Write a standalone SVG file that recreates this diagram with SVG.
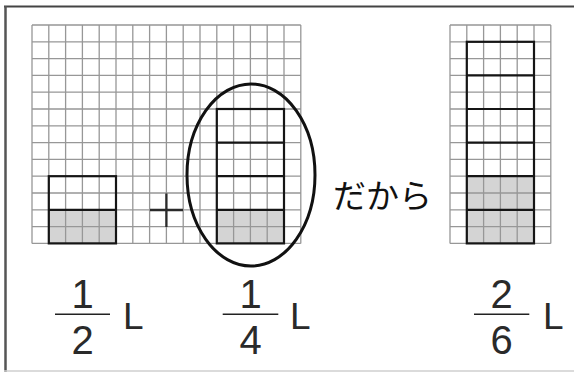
<svg xmlns="http://www.w3.org/2000/svg" width="574" height="372" viewBox="0 0 574 372">
<style>
.grid{fill:none;stroke:#979797;stroke-width:1.3}
.box{fill:none;stroke:#151515;stroke-width:2.2}
.shade{fill:#d4d4d4;stroke:none}
.num{font-family:"Liberation Sans",Arial,sans-serif;font-size:40px;fill:#2a2a2a;text-anchor:middle}
.unit{font-family:"Liberation Sans",Arial,sans-serif;font-size:37px;fill:#2a2a2a}
.bar{stroke:#222;stroke-width:1.6}
</style>
<rect x="0" y="0" width="574" height="372" fill="#fff"/>
<g id="frame">
<line x1="4" y1="6.5" x2="574" y2="6.5" stroke="#444" stroke-width="2"/>
<line x1="5.5" y1="6" x2="5.5" y2="372" stroke="#555" stroke-width="2.5"/>
<line x1="4" y1="371" x2="574" y2="371" stroke="#cfcfcf" stroke-width="1.5"/>
</g>
<g id="shading">
<rect class="shade" x="48.8" y="209.8" width="67.2" height="33.6"/>
<rect class="shade" x="216.8" y="209.8" width="67.2" height="33.6"/>
<rect class="shade" x="466.8" y="176.2" width="67.2" height="67.2"/>
</g>
<g id="grid-main">
<path class="grid" d="M32 25V243.4M48.8 25V243.4M65.6 25V243.4M82.4 25V243.4M99.2 25V243.4M116 25V243.4M132.8 25V243.4M149.6 25V243.4M166.4 25V243.4M183.2 25V243.4M200 25V243.4M216.8 25V243.4M233.6 25V243.4M250.4 25V243.4M267.2 25V243.4M284 25V243.4M300.8 25V243.4
M32 25H300.8M32 41.8H300.8M32 58.6H300.8M32 75.4H300.8M32 92.2H300.8M32 109H300.8M32 125.8H300.8M32 142.6H300.8M32 159.4H300.8M32 176.2H300.8M32 193H300.8M32 209.8H300.8M32 226.6H300.8M32 243.4H300.8"/>
</g>
<g id="grid-right">
<path class="grid" d="M450 25V243.4M466.8 25V243.4M483.6 25V243.4M500.4 25V243.4M517.2 25V243.4M534 25V243.4M550.8 25V243.4
M450 25H550.8M450 41.8H550.8M450 58.6H550.8M450 75.4H550.8M450 92.2H550.8M450 109H550.8M450 125.8H550.8M450 142.6H550.8M450 159.4H550.8M450 176.2H550.8M450 193H550.8M450 209.8H550.8M450 226.6H550.8M450 243.4H550.8"/>
</g>
<g id="box-half">
<rect class="box" x="48.8" y="176.2" width="67.2" height="67.2"/>
<line class="box" x1="48.8" y1="209.8" x2="116" y2="209.8"/>
</g>
<g id="plus">
<path d="M150 210H183M166.4 193.5V227" stroke="#2a2a2a" stroke-width="2.3" fill="none"/>
</g>
<g id="box-quarter">
<rect class="box" x="216.8" y="109" width="67.2" height="134.4"/>
<path class="box" d="M216.8 142.6H284M216.8 176.2H284M216.8 209.8H284"/>
</g>
<g id="ellipse">
<ellipse cx="251" cy="175" rx="64" ry="91" fill="none" stroke="#111" stroke-width="3"/>
</g>
<g id="dakara">
<text x="333" y="208" font-family="'Noto Sans CJK JP',sans-serif" font-size="33" fill="#111">だから</text>
</g>
<g id="box-result">
<rect class="box" x="466.8" y="41.8" width="67.2" height="201.6"/>
<path class="box" d="M466.8 75.4H534M466.8 109H534M466.8 142.6H534M466.8 176.2H534M466.8 209.8H534"/>
</g>
<g id="frac-1-2">
<text class="num" x="82.5" y="307.5">1</text>
<line class="bar" x1="55" y1="314.3" x2="110" y2="314.3"/>
<text class="num" x="82.5" y="353.5">2</text>
<text class="unit" x="123" y="329">L</text>
</g>
<g id="frac-1-4">
<text class="num" x="250.5" y="307.5">1</text>
<line class="bar" x1="222.7" y1="314.3" x2="278.3" y2="314.3"/>
<text class="num" x="250.5" y="353.5">4</text>
<text class="unit" x="290" y="329">L</text>
</g>
<g id="frac-2-6">
<text class="num" x="501.7" y="307.5">2</text>
<line class="bar" x1="474" y1="314.3" x2="529.3" y2="314.3"/>
<text class="num" x="501.7" y="353.5">6</text>
<text class="unit" x="543" y="329">L</text>
</g>
</svg>
